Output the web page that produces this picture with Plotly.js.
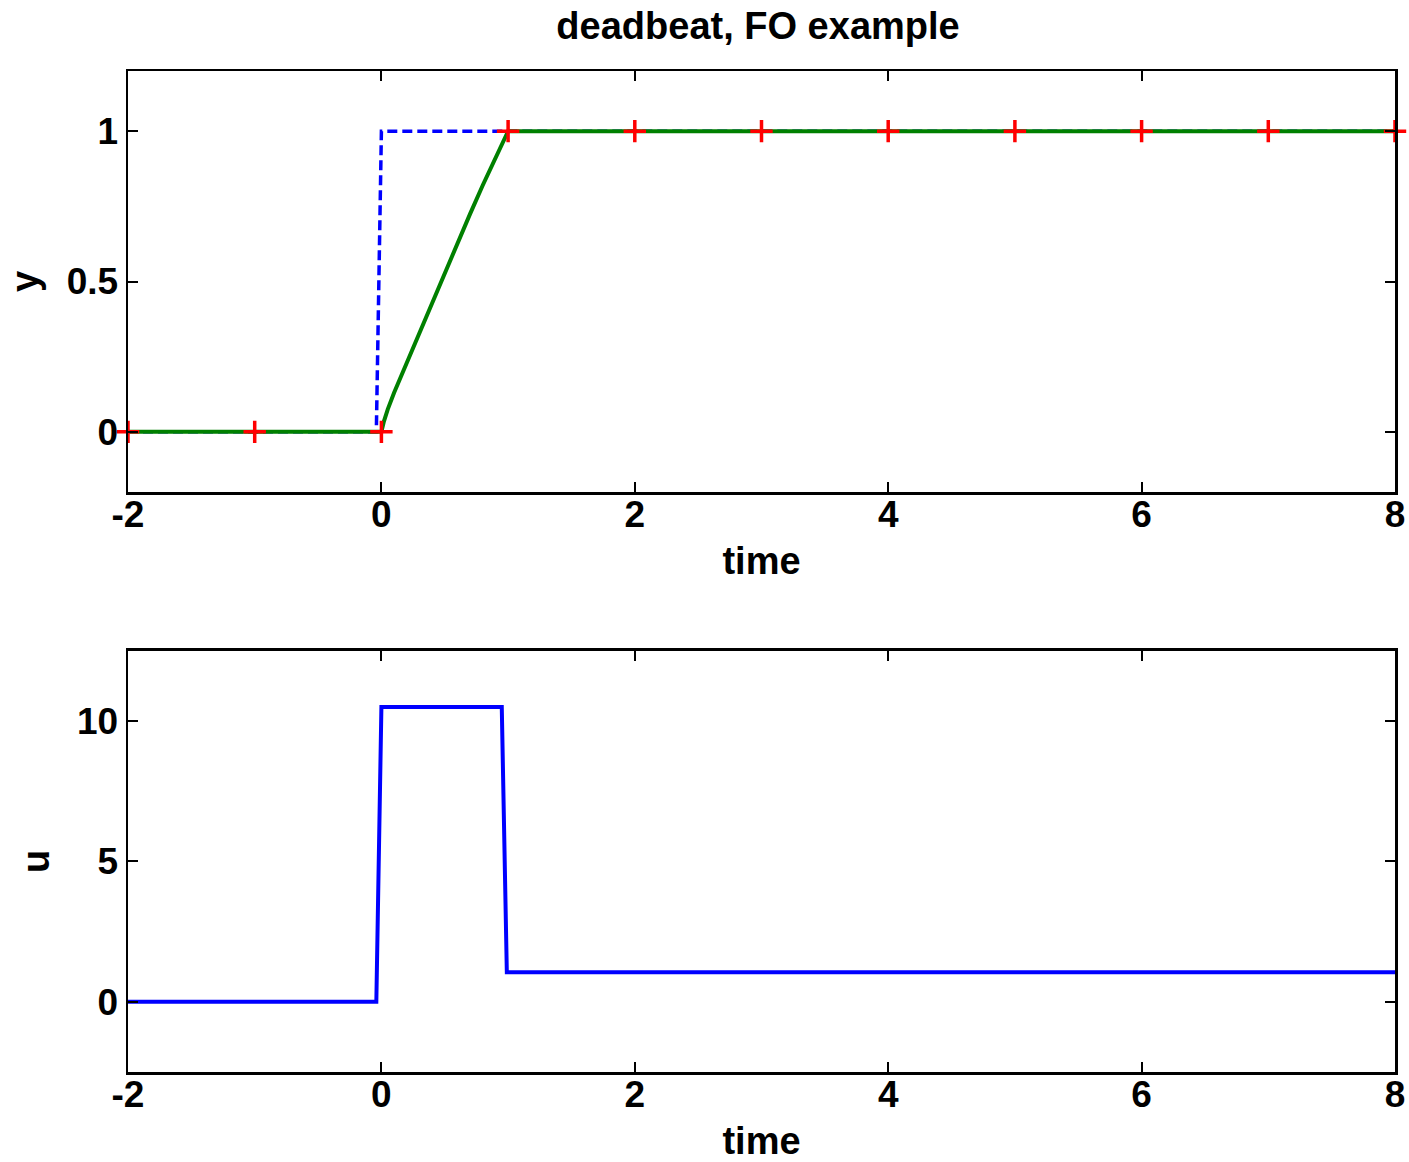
<!DOCTYPE html>
<html>
<head>
<meta charset="utf-8">
<script src="https://cdn.plot.ly/plotly-3.0.1.min.js"></script>
<style>html,body{margin:0;padding:0;background:#fff}#plot{width:1409px;height:1162px}</style>
</head>
<body>
<div id="plot"></div>
<script>
// reference (dashed blue)
const refT = [-2, -0.04, 0, 8];
const refY = [0, 0, 1, 1];
// output y (green)
const yT = [-2, -1, 0, 0.02, 0.05, 0.1, 0.2, 0.3, 0.4, 0.5, 0.6, 0.7, 0.8, 0.9, 1, 2, 3, 4, 5, 6, 7, 8];
const yV = [0, 0, 0, 0.035, 0.075, 0.13, 0.23, 0.33, 0.43, 0.53, 0.63, 0.725, 0.82, 0.91, 1, 1, 1, 1, 1, 1, 1, 1];
// samples (red +)
const sampT = [-2, -1, 0, 1, 2, 3, 4, 5, 6, 7, 8];
const sampY = [0, 0, 0, 1, 1, 1, 1, 1, 1, 1, 1];
// control u (blue)
const uT = [-2, -0.04, 0, 0.95, 0.99, 8];
const uV = [0, 0, 10.5, 10.5, 1.05, 1.05];
// ticks
const xTicks = [-2, 0, 2, 4, 6, 8];
const xTickText = ['-2', '0', '2', '4', '6', '8'];
const yTicksTop = [0, 0.5, 1];
const yTicksBot = [0, 5, 10];

const fnt = {family: 'Liberation Sans, Arial, sans-serif', size: 38, color: '#000'};
const tfnt = {family: 'Liberation Sans, Arial, sans-serif', size: 37, color: '#000'};
const bold = s => '<b>' + s + '</b>';

const traces = [
  {x: refT, y: refY, mode: 'lines', line: {color: '#0000ff', width: 3.5, dash: '10px,5px'}, xaxis: 'x', yaxis: 'y'},
  {x: yT, y: yV, mode: 'lines', line: {color: '#008000', width: 4}, xaxis: 'x', yaxis: 'y'},
  {x: sampT, y: sampY, mode: 'markers', marker: {symbol: 'cross-thin', size: 16, color: '#ff0000', line: {color: '#ff0000', width: 3.5}}, xaxis: 'x', yaxis: 'y', cliponaxis: false},
  {x: uT, y: uV, mode: 'lines', line: {color: '#0000ff', width: 4}, xaxis: 'x2', yaxis: 'y2'}
];

const axBase = {
  showline: true, linecolor: '#000', linewidth: 2.5, mirror: 'allticks',
  ticks: 'inside', ticklen: 10, tickwidth: 2, tickcolor: '#000',
  showgrid: false, zeroline: false, tickfont: tfnt
};

const layout = {
  width: 1409, height: 1162,
  margin: {l: 128, r: 14, t: 71, b: 90},
  paper_bgcolor: '#fff', plot_bgcolor: '#fff',
  showlegend: false,
  title: {text: bold('deadbeat, FO example'), font: fnt, x: 0.538, xanchor: 'center', y: 0.978, yanchor: 'middle'},
  xaxis: Object.assign({}, axBase, {domain: [0, 1], anchor: 'y', range: [-2, 8], tickvals: xTicks, ticktext: xTickText.map(bold),
    ticklabelstandoff: -12, title: {text: bold('time'), font: fnt, standoff: 14}}),
  yaxis: Object.assign({}, axBase, {domain: [0.5794, 1], anchor: 'x', range: [-0.2, 1.2], tickvals: yTicksTop, ticktext: yTicksTop.map(v => bold(String(v))),
    title: {text: bold('y'), font: fnt, standoff: 17}}),
  xaxis2: Object.assign({}, axBase, {domain: [0, 1], anchor: 'y2', range: [-2, 8], tickvals: xTicks, ticktext: xTickText.map(bold),
    ticklabelstandoff: -12, title: {text: bold('time'), font: fnt, standoff: 14}}),
  yaxis2: Object.assign({}, axBase, {domain: [0, 0.4206], anchor: 'x2', range: [-2.5, 12.5], tickvals: yTicksBot, ticktext: yTicksBot.map(v => bold(String(v))),
    title: {text: bold('u'), font: fnt, standoff: 16}})
};

Plotly.newPlot('plot', traces, layout, {displayModeBar: false, staticPlot: true});
</script>
</body>
</html>
